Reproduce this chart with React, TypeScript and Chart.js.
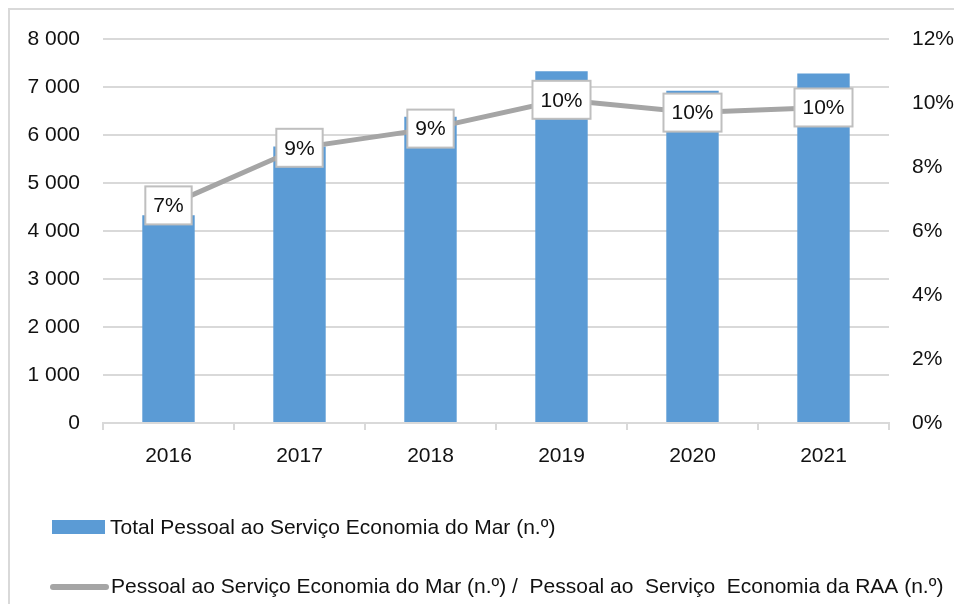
import React, { useEffect, useRef } from "react";
import { Chart, registerables } from "chart.js";

Chart.register(...registerables);

const categories = ["2016", "2017", "2018", "2019", "2020", "2021"];
const totalPessoal = [4330, 5760, 6380, 7330, 6920, 7280];
const percentPessoal = [6.8, 8.6, 9.2, 10.1, 9.7, 9.86];
const barLabel = "Total Pessoal ao Serviço Economia do Mar (n.º)";
const lineLabel = "Pessoal ao Serviço Economia do Mar (n.º) /  Pessoal ao  Serviço  Economia da RAA (n.º)";

const FONT = "'Liberation Sans', Arial, sans-serif";
const FS = 21;
const TEXT = "#111111";
const GRID = "#d9d9d9";
const BAR = "#5b9bd5";
const LINE = "#a5a5a5";
const CLEAR = "rgba(0,0,0,0)";

const fmtThousands = (v: number) => String(v).replace(/\B(?=(\d{3})+(?!\d))/g, " ");

const labelPlugin = {
  id: "boxLabels",
  afterDatasetsDraw(chart: any) {
    const ctx = chart.ctx;
    const meta = chart.getDatasetMeta(1);
    const data = chart.data.datasets[1].data as number[];
    ctx.save();
    ctx.font = `${FS}px ${FONT}`;
    ctx.textAlign = "center";
    ctx.textBaseline = "middle";
    meta.data.forEach((pt: any, i: number) => {
      const txt = Math.round(data[i]) + "%";
      const w = ctx.measureText(txt).width + 16;
      const h = 38;
      const x = pt.x - w / 2;
      const y = pt.y - h / 2;
      ctx.fillStyle = "#ffffff";
      ctx.fillRect(x, y, w, h);
      ctx.strokeStyle = "#bfbfbf";
      ctx.lineWidth = 2;
      ctx.strokeRect(x, y, w, h);
      ctx.fillStyle = TEXT;
      ctx.fillText(txt, pt.x, pt.y + 1);
    });
    ctx.restore();
  },
};

const legendPlugin = {
  id: "customLegend",
  afterDraw(chart: any) {
    const ctx = chart.ctx;
    const area = chart.chartArea;
    const x0 = area.left - 51;
    const y1 = area.bottom + 104;
    const y2 = area.bottom + 164;
    ctx.save();
    ctx.font = `${FS}px ${FONT}`;
    ctx.textAlign = "left";
    ctx.textBaseline = "middle";
    // row 1: bar swatch
    ctx.fillStyle = BAR;
    ctx.fillRect(x0, y1 - 7, 53, 14);
    ctx.fillStyle = TEXT;
    ctx.fillText(chart.data.datasets[0].label, x0 + 58, y1 + 1);
    // row 2: line swatch
    ctx.strokeStyle = LINE;
    ctx.lineWidth = 6;
    ctx.lineCap = "round";
    ctx.beginPath();
    ctx.moveTo(x0 + 1, y2);
    ctx.lineTo(x0 + 54, y2);
    ctx.stroke();
    ctx.fillStyle = TEXT;
    ctx.fillText(chart.data.datasets[1].label, x0 + 59, y2);
    ctx.restore();
  },
};

export default function App() {
  const ref = useRef<HTMLCanvasElement | null>(null);

  useEffect(() => {
    if (!ref.current) return;
    const chart = new Chart(ref.current, {
      type: "bar",
      data: {
        labels: categories,
        datasets: [
          {
            type: "bar",
            label: barLabel,
            data: totalPessoal,
            backgroundColor: BAR,
            yAxisID: "y",
            categoryPercentage: 1,
            barPercentage: 0.4,
            order: 1,
          },
          {
            type: "line",
            label: lineLabel,
            data: percentPessoal,
            borderColor: LINE,
            borderWidth: 5,
            pointRadius: 0,
            pointHoverRadius: 0,
            tension: 0,
            yAxisID: "y1",
            order: 0,
          } as any,
        ],
      },
      options: {
        responsive: false,
        animation: false,
        layout: { padding: { left: 0, right: 0, top: 29, bottom: 121 } },
        plugins: {
          legend: { display: false },
          tooltip: { enabled: false },
          title: { display: false },
        },
        scales: {
          x: {
            offset: true,
            grid: {
              offset: true,
              drawOnChartArea: false,
              drawTicks: true,
              tickLength: 7,
              color: GRID,
              lineWidth: 2,
            },
            border: { display: true, color: GRID, width: 2 },
            ticks: { color: TEXT, font: { family: FONT, size: FS }, padding: 14 },
            afterFit: (s: any) => {
              s.height = 60;
            },
          },
          y: {
            position: "left",
            min: 0,
            max: 8000,
            ticks: {
              stepSize: 1000,
              color: TEXT,
              font: { family: FONT, size: FS },
              padding: 3,
              callback: (v: any) => fmtThousands(Number(v)),
            },
            grid: { color: GRID, lineWidth: 2, drawTicks: true, tickLength: 20, tickColor: CLEAR },
            border: { display: false },
            afterFit: (s: any) => {
              s.width = 93;
            },
          },
          y1: {
            position: "right",
            min: 0,
            max: 12,
            ticks: {
              stepSize: 2,
              color: TEXT,
              font: { family: FONT, size: FS },
              padding: 3,
              callback: (v: any) => v + "%",
            },
            grid: { display: true, drawOnChartArea: false, drawTicks: true, tickLength: 20, color: CLEAR, tickColor: CLEAR },
            border: { display: false },
            afterFit: (s: any) => {
              s.width = 65;
            },
          },
        },
      },
      plugins: [labelPlugin, legendPlugin],
    });
    return () => chart.destroy();
  }, []);

  return (
    <div
      style={{
        width: 946,
        height: 596,
        borderTop: `2px solid ${GRID}`,
        borderLeft: `2px solid ${GRID}`,
        boxSizing: "border-box",
      }}
    >
      <canvas ref={ref} width={944} height={594} style={{ display: "block" }} />
    </div>
  );
}
